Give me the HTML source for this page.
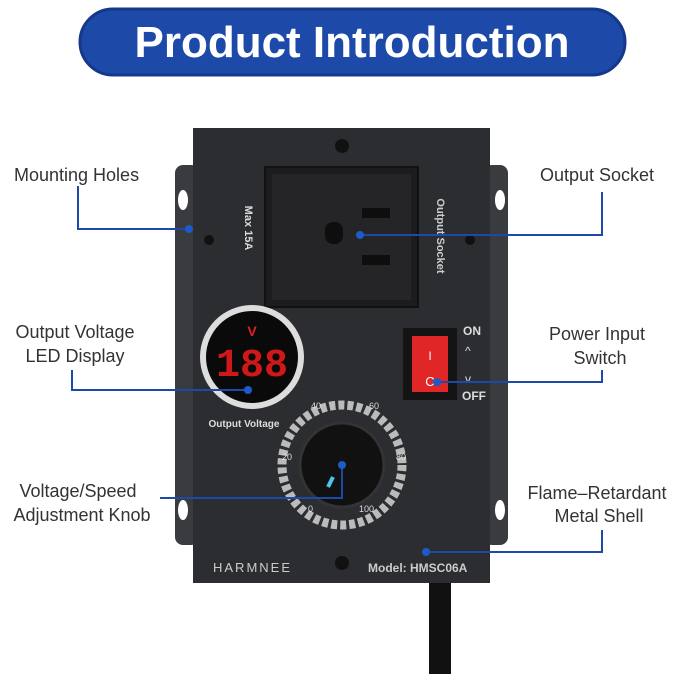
<!DOCTYPE html>
<html><head><meta charset="utf-8"><style>
html,body{margin:0;padding:0;background:#fff;}
svg{display:block;}
</style></head><body>
<svg width="679" height="674" viewBox="0 0 679 674" xmlns="http://www.w3.org/2000/svg" font-family="Liberation Sans, sans-serif">
<rect width="679" height="674" fill="#fff"/>
<!-- banner -->
<rect x="80" y="9" width="545" height="66" rx="33" fill="#1d4aa8" stroke="#15388a" stroke-width="3"/>
<text x="352" y="57" text-anchor="middle" font-size="44" font-weight="bold" fill="#fff">Product Introduction</text>
<!-- cable -->
<rect x="429" y="575" width="22" height="99" fill="#111"/>
<!-- brackets -->
<rect x="175" y="165" width="24" height="380" rx="8" fill="#3a3b3e"/>
<rect x="484" y="165" width="24" height="380" rx="8" fill="#3a3b3e"/>
<ellipse cx="183" cy="200" rx="5" ry="10" fill="#fff"/>
<ellipse cx="183" cy="510" rx="5" ry="10" fill="#fff"/>
<ellipse cx="500" cy="200" rx="5" ry="10" fill="#fff"/>
<ellipse cx="500" cy="510" rx="5" ry="10" fill="#fff"/>
<!-- body -->
<rect x="193" y="128" width="297" height="455" fill="#2c2d30"/>
<circle cx="342" cy="146" r="7" fill="#111"/>
<circle cx="342" cy="563" r="7" fill="#111"/>
<circle cx="209" cy="240" r="5" fill="#111"/>
<circle cx="470" cy="240" r="5" fill="#111"/>
<!-- socket -->
<rect x="265" y="167" width="153" height="140" fill="#1c1c1e" stroke="#111" stroke-width="2"/>
<rect x="272" y="174" width="139" height="126" fill="#252527"/>
<rect x="325" y="222" width="18" height="22" rx="8" fill="#0e0e0e"/>
<rect x="362" y="208" width="28" height="10" fill="#0e0e0e"/>
<rect x="362" y="255" width="28" height="10" fill="#0e0e0e"/>
<text x="245" y="228" font-size="11" fill="#ddd" font-weight="bold" transform="rotate(90 245 228)" text-anchor="middle">Max 15A</text>
<text x="437" y="236" font-size="11" fill="#ccc" font-weight="bold" transform="rotate(90 437 236)" text-anchor="middle">Output Socket</text>
<!-- display -->
<circle cx="252" cy="357" r="52" fill="#ddd"/>
<circle cx="252" cy="357" r="46" fill="#0a0a0a"/>
<text x="252" y="336" text-anchor="middle" font-size="14" font-weight="bold" fill="#e02020">V</text>
<text x="252" y="376" text-anchor="middle" font-size="40" font-family="Liberation Mono, monospace" font-weight="bold" fill="#d01818">188</text>
<text x="244" y="427" text-anchor="middle" font-size="10" fill="#ddd" font-weight="bold">Output Voltage</text>
<!-- switch -->
<rect x="403" y="328" width="54" height="72" fill="#141414"/>
<rect x="412" y="336" width="36" height="56" fill="#e02626"/>
<text x="430" y="360" text-anchor="middle" font-size="12" fill="#fff">I</text>
<text x="430" y="386" text-anchor="middle" font-size="13" fill="#fff">C</text>
<text x="463" y="335" font-size="12" fill="#ddd" font-weight="bold">ON</text>
<text x="465" y="355" font-size="12" fill="#ddd">^</text>
<text x="465" y="383" font-size="12" fill="#ddd">v</text>
<text x="462" y="400" font-size="12" fill="#ddd" font-weight="bold">OFF</text>
<!-- knob -->
<circle cx="342" cy="465" r="60" fill="none" stroke="#bbb" stroke-width="9" stroke-dasharray="6 3"/>
<circle cx="342" cy="465" r="42" fill="#111" stroke="#333" stroke-width="3"/>
<line x1="328" y1="487" x2="333" y2="477" stroke="#4cc4f0" stroke-width="4"/>
<text x="311" y="409" font-size="9" fill="#ddd">40</text>
<text x="369" y="409" font-size="9" fill="#ddd">60</text>
<text x="282" y="460" font-size="9" fill="#ddd">20</text>
<text x="396" y="460" font-size="9" fill="#ddd">80</text>
<text x="308" y="512" font-size="9" fill="#ddd">0</text>
<text x="359" y="512" font-size="9" fill="#ddd">100</text>
<!-- branding -->
<text x="213" y="572" font-size="13" fill="#ccc" letter-spacing="2">HARMNEE</text>
<text x="368" y="572" font-size="12" fill="#ccc" font-weight="bold">Model: HMSC06A</text>
<!-- callouts -->
<g fill="none" stroke="#1d4aa8" stroke-width="2">
<polyline points="78,186 78,229 189,229"/>
<polyline points="72,370 72,390 248,390"/>
<polyline points="160,498 342,498 342,465"/>
<polyline points="602,192 602,235 360,235"/>
<polyline points="602,370 602,382 437,382"/>
<polyline points="602,530 602,552 426,552"/>
</g>
<g fill="#1d5cc8">
<circle cx="189" cy="229" r="4"/><circle cx="248" cy="390" r="4"/><circle cx="342" cy="465" r="4"/>
<circle cx="360" cy="235" r="4"/><circle cx="437" cy="382" r="4"/><circle cx="426" cy="552" r="4"/>
</g>
<g font-size="18" fill="#333">
<text x="14" y="181">Mounting Holes</text>
<text x="75" y="338" text-anchor="middle">Output Voltage</text>
<text x="75" y="362" text-anchor="middle">LED Display</text>
<text x="78" y="497" text-anchor="middle">Voltage/Speed</text>
<text x="82" y="521" text-anchor="middle">Adjustment Knob</text>
<text x="597" y="181" text-anchor="middle">Output Socket</text>
<text x="597" y="340" text-anchor="middle">Power Input</text>
<text x="600" y="364" text-anchor="middle">Switch</text>
<text x="597" y="499" text-anchor="middle">Flame–Retardant</text>
<text x="599" y="522" text-anchor="middle">Metal Shell</text>
</g>
</svg>
</body></html>
